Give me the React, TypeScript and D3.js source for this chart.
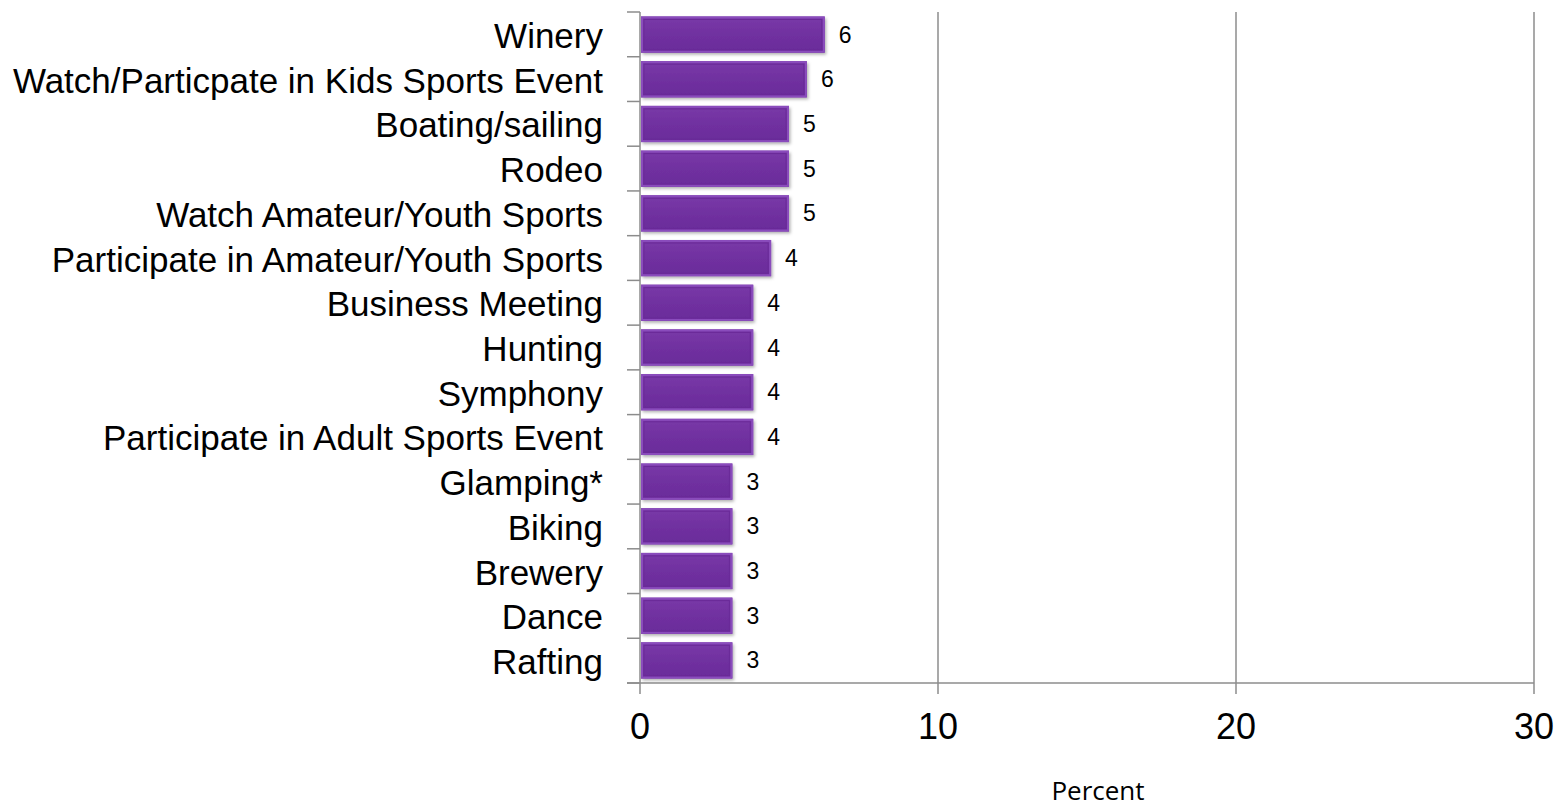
import React from "react";
import * as d3 from "d3";

const categories = [
  "Winery",
  "Watch/Particpate in Kids Sports Event",
  "Boating/sailing",
  "Rodeo",
  "Watch Amateur/Youth Sports",
  "Participate in Amateur/Youth Sports",
  "Business Meeting",
  "Hunting",
  "Symphony",
  "Participate in Adult Sports Event",
  "Glamping*",
  "Biking",
  "Brewery",
  "Dance",
  "Rafting",
];
const values = [6.2, 5.6, 5.0, 5.0, 5.0, 4.4, 3.8, 3.8, 3.8, 3.8, 3.1, 3.1, 3.1, 3.1, 3.1];
const xTicks = [0, 10, 20, 30];
const xTitle = "Percent";

const ARIAL = "'Liberation Sans', Arial, Helvetica, sans-serif";

export default function App() {
  const W = 1559, H = 812;
  const x = d3.scaleLinear().domain([0, 30]).range([640, 1534]);
  const y = d3.scaleBand<string>().domain(categories).range([12, 683]).paddingInner(0.19).paddingOuter(0.1);
  const boundaries = d3.range(categories.length + 1).map((i) => 12 + i * ((683 - 12) / categories.length));
  const grid = "#8c8c8c";
  return (
    <svg width={W} height={H} style={{ position: "absolute", left: 0, top: 0 }}>
      <defs>
        <linearGradient id="barg" x1="0" y1="0" x2="0" y2="1">
          <stop offset="0" stopColor="#7a3aa8" />
          <stop offset="0.5" stopColor="#7030a0" />
          <stop offset="1" stopColor="#6a2c9a" />
        </linearGradient>
        <filter id="sh" x="-10%" y="-20%" width="130%" height="160%">
          <feDropShadow dx="1.5" dy="2" stdDeviation="1.5" floodColor="#000" floodOpacity="0.3" />
        </filter>
      </defs>
      <rect width={W} height={H} fill="#fff" />
      {xTicks.filter((t) => t > 0).map((t) => (
        <line key={"g" + t} x1={x(t)} x2={x(t)} y1={12} y2={694} stroke={grid} strokeWidth={1.5} />
      ))}
      <line x1={x(0)} x2={x(0)} y1={12} y2={694} stroke={grid} strokeWidth={1.5} />
      {boundaries.map((b, i) => (
        <line key={"yt" + i} x1={627} x2={x(0)} y1={b} y2={b} stroke={grid} strokeWidth={1.5} />
      ))}
      <line x1={627} x2={x(30)} y1={683} y2={683} stroke={grid} strokeWidth={1.5} />
      {categories.map((c, i) => {
        const y0 = y(c)!;
        const bh = y.bandwidth();
        const x0 = x(0) + 1;
        const x1 = x(values[i]);
        return (
          <g key={c}>
            <g filter="url(#sh)">
              <rect x={x0} y={y0} width={x1 - x0} height={bh} fill="url(#barg)" />
            </g>
            <rect x={x0 + 1} y={y0 + 1} width={x1 - x0 - 2} height={bh - 2} fill="none" stroke="#8a4cbc" strokeWidth={2} />
            <rect x={x0 + 3} y={y0 + 3} width={x1 - x0 - 6} height={bh - 6} fill="none" stroke="#6a2a98" strokeWidth={1} />
            <text x={x1 + 14} y={y0 + bh / 2} dominantBaseline="central" fontFamily={ARIAL} fontSize={23} fill="#000">
              {Math.round(values[i])}
            </text>
            <text x={603} y={y0 + bh / 2 + 1} textAnchor="end" dominantBaseline="central" fontFamily={ARIAL} fontSize={35} fill="#000">
              {c}
            </text>
          </g>
        );
      })}
      {xTicks.map((t) => (
        <text key={"xt" + t} x={x(t)} y={726} textAnchor="middle" dominantBaseline="central" fontFamily={ARIAL} fontSize={36} fill="#000">
          {t}
        </text>
      ))}
      <text x={1098} y={800} textAnchor="middle" fontFamily="'Open Sans', Lato, sans-serif" fontSize={26} fill="#000">
        {xTitle}
      </text>
    </svg>
  );
}
